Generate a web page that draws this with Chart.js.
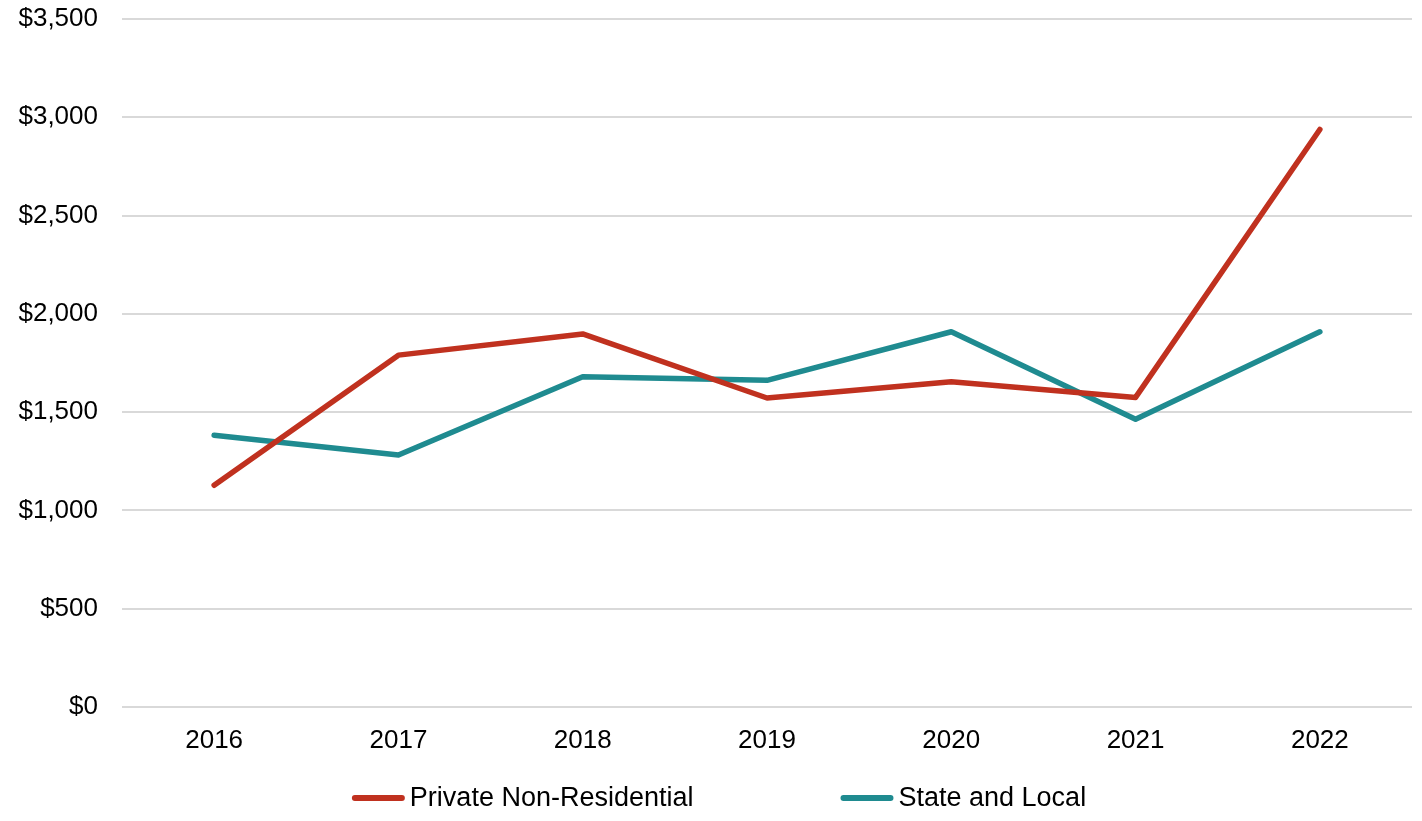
<!DOCTYPE html>
<html>
<head>
<meta charset="utf-8">
<script src="https://cdn.jsdelivr.net/npm/chart.js@4/dist/chart.umd.min.js"></script>
<style>
  html, body { margin: 0; padding: 0; background: #fff; }
  #wrap { width: 1422px; height: 821px; }
</style>
</head>
<body>
<div id="wrap"><canvas id="chart"></canvas></div>
<script>
// Данные графика
const years = ['2016', '2017', '2018', '2019', '2020', '2021', '2022'];
const privateNonResidential = [1128, 1790, 1898, 1572, 1655, 1575, 2938];
const stateAndLocal = [1383, 1282, 1680, 1662, 1909, 1464, 1909];
const seriesNames = ['Private Non-Residential', 'State and Local'];

const colorRed = '#C0311F';
const colorTeal = '#1F8B90';
const FONT = '"Liberation Sans", Arial, sans-serif';

// Легенда рисуется вручную, чтобы задать расстояние между элементами
const bottomLegend = {
  id: 'bottomLegend',
  afterDraw(chart) {
    const { ctx } = chart;
    const lineLen = 53;
    const textGap = 5;
    const itemGap = 147;
    const y = 798;
    ctx.save();
    ctx.font = `27px ${FONT}`;
    const widths = chart.data.datasets.map(
      (ds) => lineLen + textGap + ctx.measureText(ds.label).width
    );
    const total = widths.reduce((a, b) => a + b, 0) + itemGap * (widths.length - 1);
    let x = chart.width / 2 + 8 - total / 2;
    chart.data.datasets.forEach((ds, i) => {
      ctx.strokeStyle = ds.borderColor;
      ctx.lineWidth = 6;
      ctx.lineCap = 'round';
      ctx.beginPath();
      ctx.moveTo(x + 3, y);
      ctx.lineTo(x + lineLen - 3, y);
      ctx.stroke();
      ctx.fillStyle = '#000';
      ctx.textBaseline = 'middle';
      ctx.textAlign = 'left';
      ctx.fillText(ds.label, x + lineLen + textGap, y + 1);
      x += widths[i] + itemGap;
    });
    ctx.restore();
  },
};

const ctx = document.getElementById('chart').getContext('2d');

// eslint-disable-next-line no-undef
new Chart(ctx, {
  type: 'line',
  data: {
    labels: years,
    datasets: [
      {
        label: seriesNames[0],
        data: privateNonResidential,
        borderColor: colorRed,
        backgroundColor: colorRed,
      },
      {
        label: seriesNames[1],
        data: stateAndLocal,
        borderColor: colorTeal,
        backgroundColor: colorTeal,
      },
    ],
  },
  options: {
    responsive: true,
    maintainAspectRatio: false,
    animation: false,
    devicePixelRatio: 1,
    layout: { padding: { left: 18, right: 10, top: 19, bottom: 64 } },
    elements: {
      line: {
        borderWidth: 5.5,
        tension: 0,
        borderCapStyle: 'round',
        borderJoinStyle: 'round',
      },
      point: { radius: 0, hoverRadius: 0 },
    },
    plugins: {
      legend: { display: false },
      tooltip: { enabled: false },
    },
    scales: {
      x: {
        offset: true,
        grid: { display: false, drawTicks: false },
        border: { display: false },
        ticks: {
          color: '#000',
          font: { family: FONT, size: 26 },
          padding: 18,
          maxRotation: 0,
        },
        afterFit(scale) {
          // Фиксированная высота оси X
          scale.height = 50;
          scale.paddingLeft = 0;
          scale.paddingRight = 0;
        },
      },
      y: {
        min: 0,
        max: 3500,
        grid: { color: '#D9D9D9', lineWidth: 2, drawTicks: false },
        border: { display: false },
        ticks: {
          stepSize: 500,
          color: '#000',
          font: { family: FONT, size: 26 },
          padding: 24,
          callback: (v) => '$' + v.toLocaleString('en-US'),
        },
        afterFit(scale) {
          // Фиксированная ширина оси Y, без лишних отступов сверху и снизу
          scale.width = 104;
          scale.paddingTop = 0;
          scale.paddingBottom = 0;
        },
      },
    },
  },
  plugins: [bottomLegend],
});
</script>
</body>
</html>
